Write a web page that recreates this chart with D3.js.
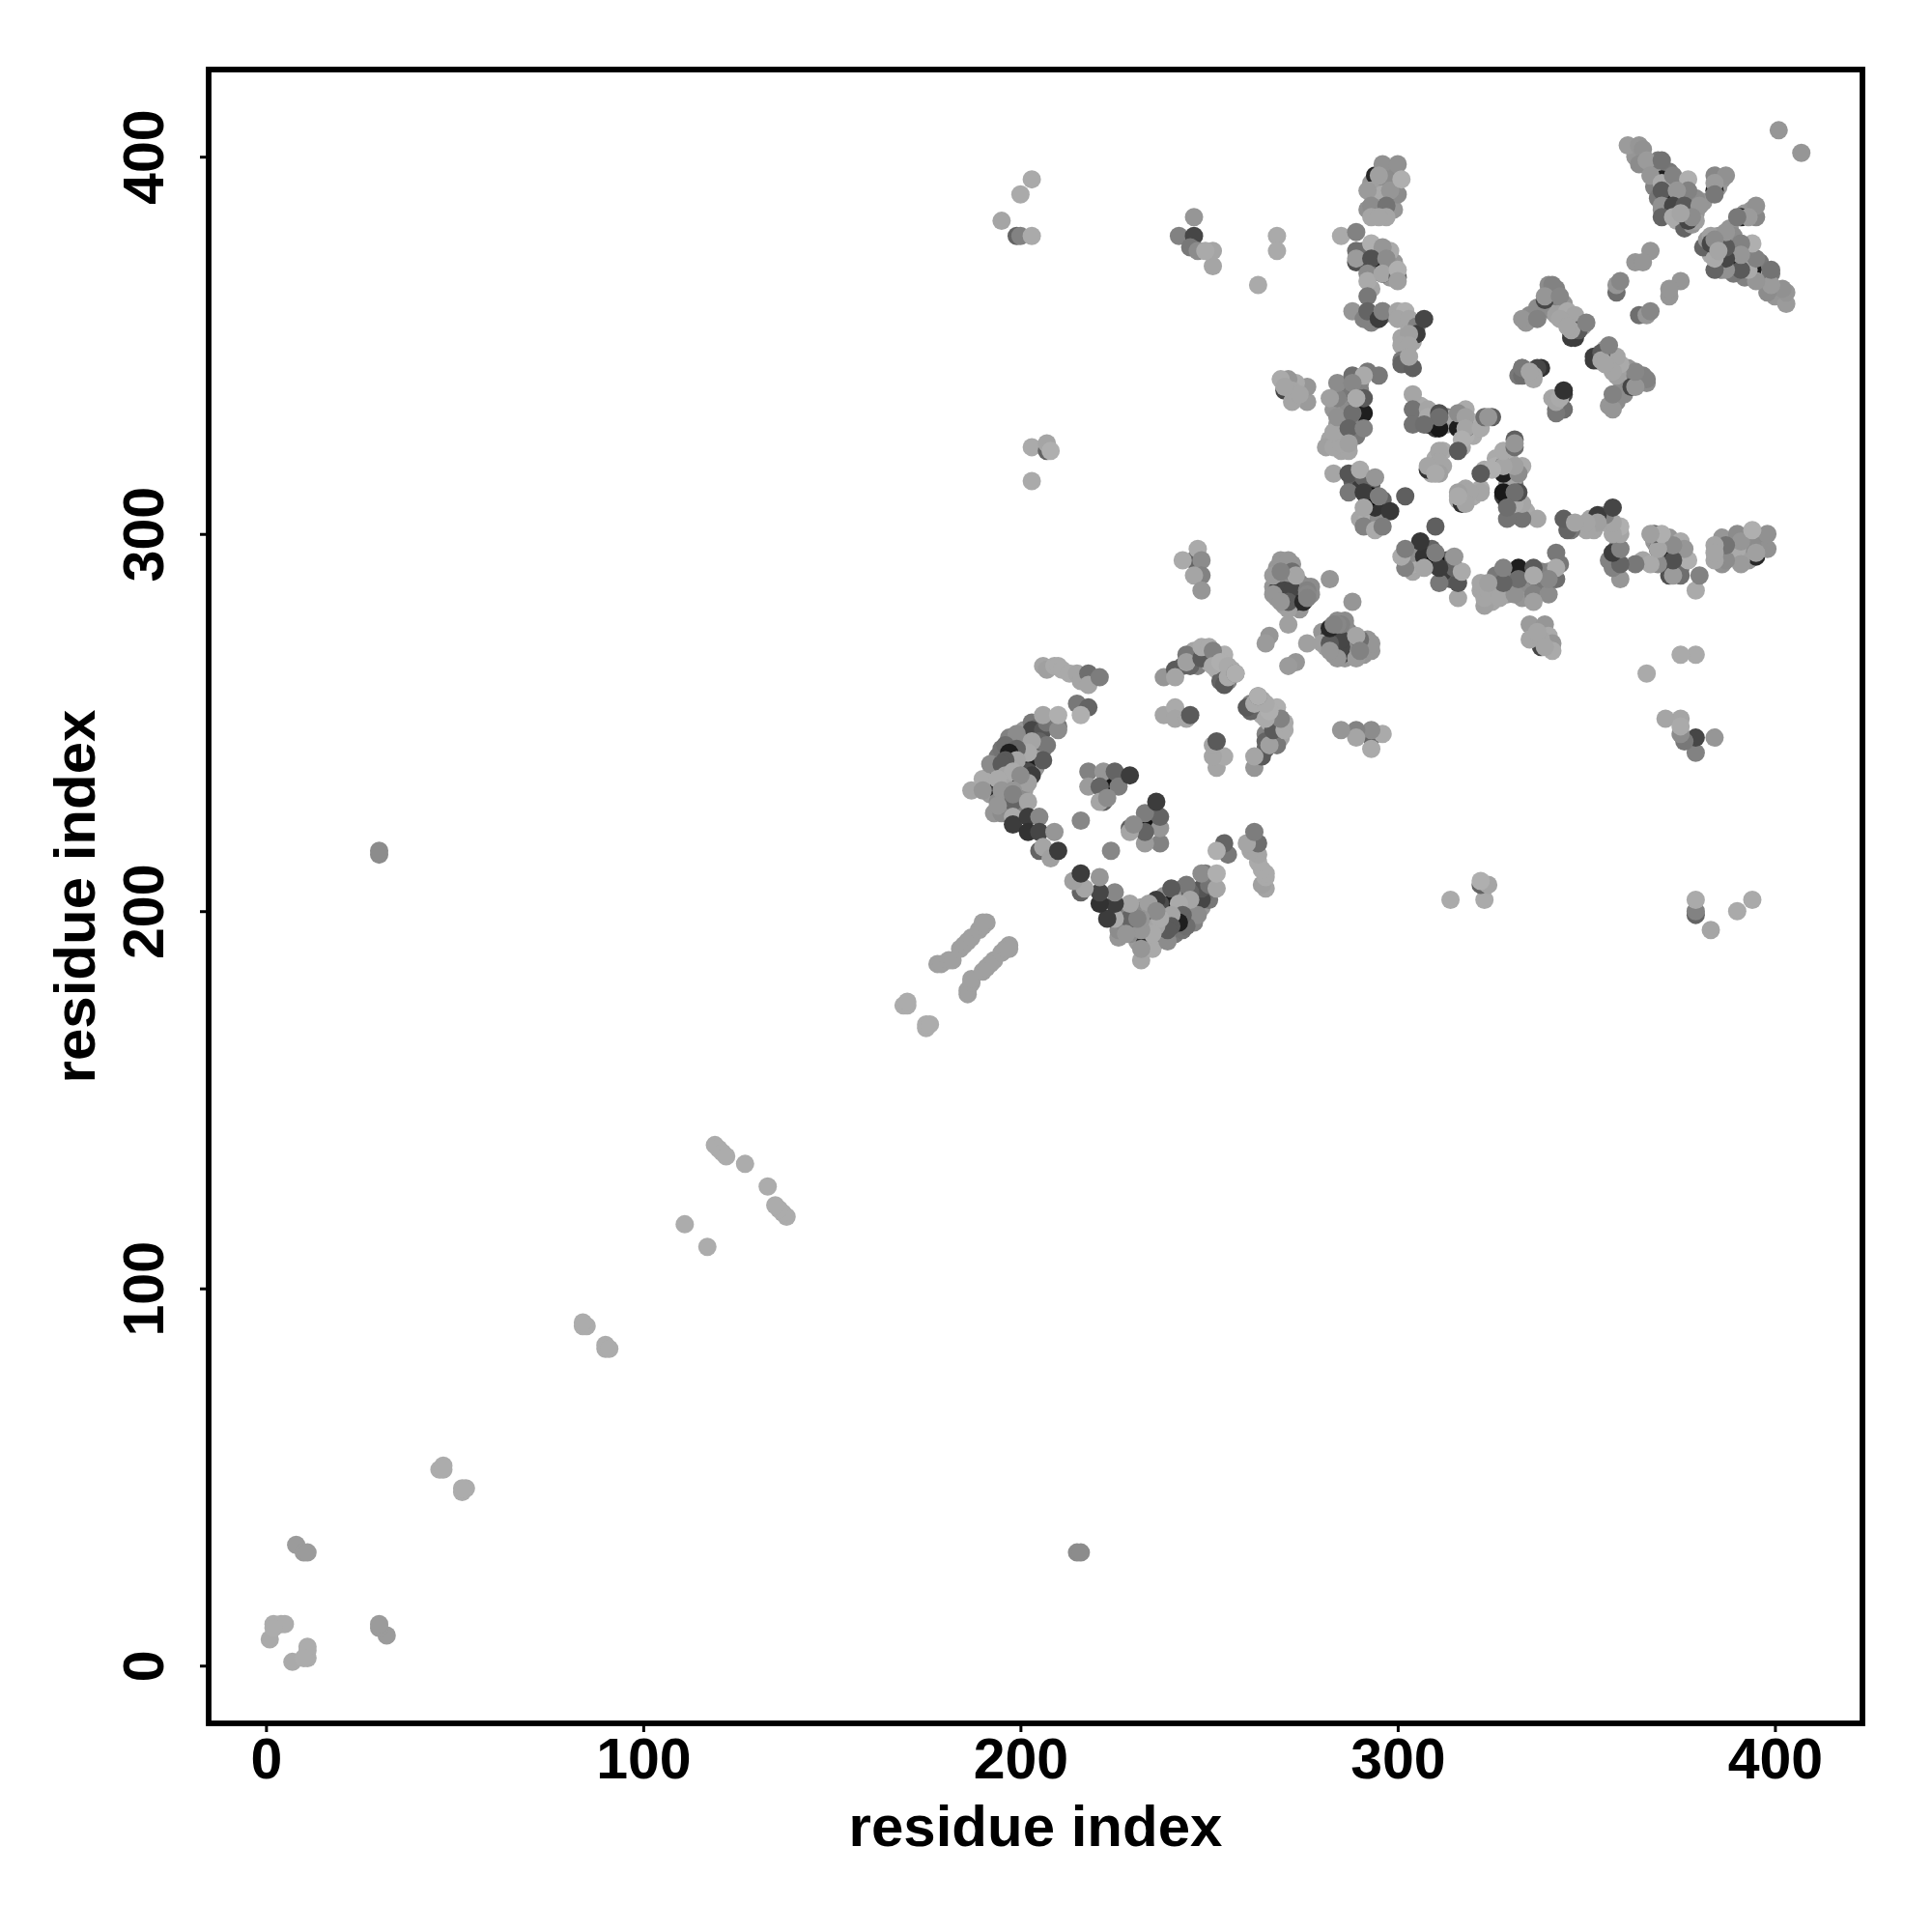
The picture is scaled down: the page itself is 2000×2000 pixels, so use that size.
<!DOCTYPE html>
<html><head><meta charset="utf-8">
<script src="https://cdn.jsdelivr.net/npm/d3@7/dist/d3.min.js"></script>
<style>html,body{margin:0;padding:0;background:#fff}svg{display:block}</style>
</head><body><svg id="c" width="2000" height="2000"></svg>
<script>
// each contact: [residue i, residue j, grey level]; the map is symmetric, so j,i is drawn too
const xTicks = [0,100,200,300,400];
const yTicks = [0,100,200,300,400];
const xTitle = "residue index";
const yTitle = "residue index";

const sparseContacts = [
 [1,7,170],[2,11,172],[4,11,172],[5,11,172],[2,10,172],[8,32,155],[10,30,155],[11,30,155],
 [46,52,172],[47,53,172],[47,52,172],[84,90,172],[85,90,172],[84,91,172],[111,117,172],
 [119,138,172],[120,137,172],[121,136,172],[122,135,172],[127,133,172],[169,175,172],[170,175,172],[170,176,172],
 [178,186,160],[179,186,160],[181,187,160],[182,187,160],[184,190,160],[185,191,160],[186,192,160],[187,193,160],[189,195,160],[190,196,160],[191,197,160],[190,197,160],
 [30,215,140],[30,216,140]
];
const ringArm = [
 [202,240,30],[194,238,20],[197,236,10],[194,232,40],[202,237,75],[203,236,60],[203,248,70],
 [187,232,165],[190,235,170],[190,232,150],[192,239,140],[195,243,115],[194,229,140],[199,247,140],
 [206,248,85],[207,250,115],[210,249,120],[210,248,140],[206,252,165],[210,252,175],[205,245,100],[207,244,120],
 [206,240,90],[203,245,165],[202,242,170],[202,234,160],[196,244,110],[199,243,100],[197,242,30],[199,240,165],
 [196,240,90],[195,239,90],[196,236,165],[198,237,170],[200,236,140],[194,235,170],[195,232,150],[198,232,150],
 [198,229,100],[194,228,150],[198,231,130],[202,229,165],[198,225,170],[198,223,60],[202,225,60],[202,221,50],
 [205,225,135],[205,221,70],[209,221,150],[205,216,100],[206,217,165],[208,214,160],[210,216,60]
];
const ringArmExtra = [
 [192,236,150],[193,233,150],[192,231,155],[193,226,150],[195,226,140],[196,228,135],[199,226,150],[200,229,130],
 [197,246,130],[199,245,150],[201,244,140],[201,248,150],[203,250,120],[204,247,130],[205,249,110],[206,243,125],
 [205,241,150],[204,238,150],[201,232,160],[200,232,140],[194,241,120],[196,241,150],[192,234,140],[201,235,165]
];
const ringInner = [
 [224,233,20],[218,237,130],[222,237,150],[218,233,155],[225,237,100],[226,233,125],[221,233,100],[222,229,95],
 [221,229,165],[223,230,140],[229,236,60],[216,224,135],[215,255,120],[218,254,100],[216,252,175],
 [206,265,165],[207,264,160],[209,265,170],[210,265,170],[211,264,170],[213,263,170],[215,263,165],[216,261,165],
 [218,263,110],[218,260,165],[221,262,125]
];
const midContacts = [
 [238,262,150],[241,264,90],[241,262,165],[244,268,120],[245,265,100],[244,266,160],[248,267,90],[248,270,170],[250,270,170],
 [251,269,130],[251,265,170],[253,266,175],[254,260,90],[255,262,170],[255,265,170],[257,263,130],[257,263,175],
 [238,252,165],[241,254,170],[241,251,165],[244,251,165],[245,252,90],[246,293,100],[243,293,170],[247,296,170],
 [248,293,140],[248,289,130],[246,289,165],[248,285,150],
 [268,285,60],[270,285,70],[272,285,70],[271,282,90],[275,282,40],
 [269,293,150],[267,289,155],[271,293,150],[272,290,110],[273,289,165],[269,290,130],[267,284,150],[269,282,150],
 [276,285,130],[276,284,135],[276,283,130],[271,276,160],[266,273,150],[265,271,155],[282,288,150],
 [270,338,70],[276,335,155],[276,339,150],[272,335,165],[273,340,170],[271,341,150],[269,341,170],[272,338,165],[274,337,165],[270,339,165]
];
const midExtra = [
 [246,269,165],[247,268,150],[249,269,170],[249,267,140],[252,267,170],[253,263,165],[252,264,170],[256,264,170],
 [255,261,130],[253,261,100],[247,265,130],[243,265,100],[250,266,170],[254,268,175],
 [268,291,150],[270,291,150],[272,292,150],[268,287,150],[270,288,90],[270,287,60],[271,287,60],[273,287,100],
 [274,287,130],[275,286,130],[274,285,60],[277,286,140],[276,286,140],[277,284,140],[268,283,150],[270,281,160],
 [272,281,150],[274,280,150],[273,282,60],[271,280,160],[269,287,140],[267,286,150]
];
const coreContacts = [
 [289,336,40],[291,332,30],[308,329,45],[311,328,25],[316,328,30],[318,328,40],[308,317,50],[294,307,50],[293,310,10],
 [281,323,160],[283,323,165],[287,322,165],[285,324,165],[283,327,165],[284,331,145],[284,336,130],[284,340,140],
 [288,342,110],[292,343,120],[295,342,120],[291,342,170],[291,336,90],[288,332,110],[287,328,100],[291,328,130],
 [288,340,135],[289,336,170],[282,336,160],[287,324,160],
 [304,337,165],[304,333,115],[304,329,115],[308,333,165],[308,331,170],[311,332,80],[311,331,110],[307,329,110],
 [316,332,140],[318,331,160],[318,328,165],[322,328,170],[323,331,110],[325,331,95],[324,331,150],[317,325,175],[316,322,90],
 [311,322,165],[311,319,165],[311,316,160],[308,318,165],[310,316,170],
 [283,316,165],[287,316,85],[287,311,120],[291,315,100],[290,317,170],[294,315,150],[291,311,60],[295,310,125],
 [291,307,165],[298,306,55],[302,310,95],[291,302,130],[294,301,170],[296,302,125]
];
const coreExtra = [
 [282,325,165],[284,325,165],[285,322,165],[284,329,150],[285,333,120],[286,336,170],[286,338,120],[290,340,140],
 [290,338,130],[288,329,130],[289,326,120],[286,326,150],[283,333,150],[287,334,140],
 [305,331,130],[306,334,170],[309,330,100],[310,328,60],[309,332,130],[313,331,120],[313,329,150],[315,331,165],
 [319,330,175],[320,328,175],[318,333,170],[320,326,170],[318,326,175],[317,323,170],[309,316,170],[312,322,170],[312,318,165],[310,320,170],
 [288,314,95],[290,312,60],[293,313,90],[292,309,70],[296,307,60],[293,304,150],[294,303,165],[290,304,165],[292,304,170],[295,304,140],[296,309,100]
];
const upperContacts = [
 [294,395,40],[295,373,20],[296,369,40],[297,390,70],
 [296,398,145],[300,398,145],[297,394,140],[295,395,160],[293,391,160],[296,390,170],[300,390,140],[298,391,150],[292,391,155],
 [293,387,140],[297,387,115],[293,384,165],[297,384,165],[295,384,165],[301,394,175],
 [285,379,170],[289,380,130],[289,375,110],[289,372,80],[289,373,155],[293,377,175],[296,376,150],[293,373,80],[297,373,140],
 [292,369,140],[292,367,170],[296,369,165],[300,368,100],[300,370,175],[300,367,160],
 [292,363,120],[288,359,150],[291,357,130],[292,359,100],[296,359,150],[295,357,60],[296,359,130],
 [300,359,165],[302,359,175],[300,357,165],[303,357,165],[305,355,130],[305,353,60],[303,353,160],[301,350,165],[303,350,165],
 [301,346,120],[301,345,100],[304,344,95],[303,347,165],[307,357,70],
 [333,357,150],[337,360,140],[337,357,130],[339,362,70],[341,366,130],[339,363,150],[343,363,135],[342,358,160],[345,359,170],
 [347,358,165],[346,352,60],[348,354,90],[346,354,165],[343,357,165],[345,355,165],[350,356,130],
 [333,344,110],[332,342,120],[335,342,165],[336,343,170],[338,344,50],
 [344,337,70],[342,336,165],[342,333,110],[344,333,120],[341,336,165],[343,335,165]
];
const upperExtra = [
 [299,396,140],[295,392,150],[298,388,140],[295,387,140],[294,389,150],[299,393,150],[293,393,150],[292,386,145],[299,386,150],
 [291,375,120],[291,372,100],[294,376,165],[294,370,120],[298,371,130],[298,368,150],[299,372,150],[292,371,110],[293,365,165],[298,375,170],
 [296,358,120],[293,356,130],[293,358,150],[304,356,120],[304,355,130],[303,355,170],[302,352,165],[304,351,165],[303,345,120],[302,348,165],[301,352,165],[302,347,130],
 [334,356,150],[335,358,140],[338,360,150],[340,364,140],[340,361,90],[339,360,60],[341,361,70],[341,359,140],[344,361,150],[345,357,165],
 [343,360,165],[347,356,165],[348,356,165],[349,355,165],[346,353,90],[347,352,60],[342,363,130],[342,365,130],[340,366,140]
];
const topContacts = [
 [370,394,30],[373,391,40],[384,391,30],
 [361,403,155],[364,403,150],[365,402,145],[364,398,140],[366,399,155],[370,399,115],[367,395,150],[370,393,170],
 [373,395,130],[377,394,175],[377,391,130],[370,391,90],[374,391,150],[370,387,145],[373,387,70],[376,387,90],[380,387,150],
 [370,384,100],[373,384,170],[377,383,70],[378,384,140],[375,385,165],[384,395,135],[387,395,145],[384,393,155],[384,390,120],
 [367,375,150],[363,372,150],[365,372,150],[358,364,110],[358,366,150],[359,367,135],[401,407,150]
];
const topExtra = [
 [363,400,150],[365,399,150],[367,397,150],[368,396,160],[369,399,120],[372,396,120],[374,393,130],[368,392,130],[369,389,120],[371,389,100],
 [372,385,100],[370,386,140],[374,388,60],[375,386,100],[379,385,150],[381,388,150],[377,385,165],[376,384,90],[373,386,170],[374,383,170],
 [379,389,140],[376,381,100],[378,382,150],[379,383,160],[385,392,155],[386,394,150]
];
const farContacts = [
 [195,383,165],[200,390,170],[203,394,170],[199,379,100],[200,379,130],[203,379,170],
 [203,323,170],[207,322,100],[207,324,165],[208,322,175],[203,314,170],
 [242,379,130],[246,379,70],[246,384,150],[245,376,120],[247,375,140],[251,375,165],[251,371,165],[249,375,170],
 [268,379,170],[268,375,170],[263,366,170]
];

// fill-in contacts go first so the clearly visible ones sit on top of them
const contacts = [].concat(ringArmExtra, midExtra, coreExtra, upperExtra, topExtra, sparseContacts, ringArm, ringInner, midContacts, coreContacts, upperContacts, topContacts, farContacts);

const x = d3.scaleLinear().domain([-15.2,423.2]).range([216,1928]);
const y = d3.scaleLinear().domain([-15.3,423.1]).range([1784,72]);
const svg = d3.select("#c");
const font = "'Liberation Sans',Arial,sans-serif";

const marks = svg.append("g");
const both = contacts.map(d=>({a:d[0],b:d[1],g:d[2]})).concat(contacts.map(d=>({a:d[1],b:d[0],g:d[2]})));
marks.selectAll("circle").data(both).join("circle")
  .attr("cx",d=>x(d.a)).attr("cy",d=>y(d.b)).attr("r",9.5)
  .attr("fill",d=>d3.rgb(d.g,d.g,d.g));

svg.append("rect").attr("x",216).attr("y",72).attr("width",1712).attr("height",1712)
  .attr("fill","none").attr("stroke","#000").attr("stroke-width",5.8);

const gx = svg.append("g").attr("transform","translate(0,1784)")
  .call(d3.axisBottom(x).tickValues(xTicks).tickSize(9).tickPadding(6).tickFormat(d3.format("d")));
const gy = svg.append("g").attr("transform","translate(216,0)")
  .call(d3.axisLeft(y).tickValues(yTicks).tickSize(9).tickFormat(d3.format("d")));
[gx,gy].forEach(g=>{
  g.select(".domain").remove();
  g.selectAll("line").attr("stroke","#000").attr("stroke-width",3);
  g.selectAll("text").attr("fill","#000").style("font-family",font).style("font-weight","bold").style("font-size","59px");
});
gy.selectAll("text").attr("x",0).attr("y",0).attr("dy",0).attr("text-anchor","middle")
  .attr("transform","translate(-47,0) rotate(-90)");

svg.append("text").attr("x",1072).attr("y",1911).attr("text-anchor","middle")
  .style("font-family",font).style("font-weight","bold").style("font-size","60px").text(xTitle);
svg.append("text").attr("transform","translate(98,928) rotate(-90)").attr("text-anchor","middle")
  .style("font-family",font).style("font-weight","bold").style("font-size","60px").text(yTitle);
</script></body></html>
